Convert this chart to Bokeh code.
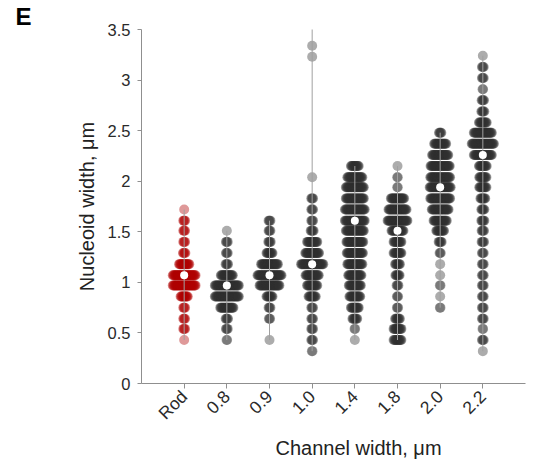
import math
from bokeh.plotting import figure
from bokeh.models import FixedTicker, CustomJSTickFormatter, Range1d, Title
from bokeh.embed import file_html
from bokeh.resources import INLINE

# ---------------- data ----------------
categories = ["Rod", "0.8", "0.9", "1.0", "1.4", "1.8", "2.0", "2.2"]

# binned nucleoid widths (um) and number of cells in each bin
rod_vals = [1.72, 1.61, 1.51, 1.40, 1.29, 1.18, 1.07, 0.97, 0.86, 0.75, 0.64, 0.54, 0.43]
rod_counts = [1, 4, 4, 4, 5, 18, 39, 39, 13, 4, 4, 4, 1]

w08_vals = [1.51, 1.40, 1.29, 1.18, 1.07, 0.97, 0.86, 0.75, 0.64, 0.54, 0.43]
w08_counts = [1, 4, 4, 5, 21, 41, 41, 23, 5, 4, 2]

w09_vals = [1.61, 1.51, 1.40, 1.29, 1.18, 1.07, 0.97, 0.86, 0.75, 0.64, 0.43]
w09_counts = [4, 4, 5, 11, 29, 41, 34, 11, 4, 3, 1]

w10_vals = [3.62, 3.34, 3.23, 2.04, 1.83, 1.72, 1.61, 1.51, 1.40, 1.29, 1.18, 1.07,
            0.97, 0.86, 0.75, 0.64, 0.54, 0.43, 0.32]
w10_counts = [1, 1, 1, 1, 4, 4, 4, 6, 18, 24, 38, 23, 18, 13, 4, 4, 4, 4, 2]

w14_vals = [2.15, 2.04, 1.94, 1.83, 1.72, 1.61, 1.51, 1.40, 1.29, 1.18, 1.07, 0.97,
            0.86, 0.75, 0.64, 0.54, 0.43]
w14_counts = [14, 26, 31, 31, 34, 34, 31, 29, 28, 26, 23, 21, 19, 14, 9, 2, 1]

w18_vals = [2.15, 2.04, 1.94, 1.83, 1.72, 1.61, 1.51, 1.40, 1.29, 1.18, 1.07, 0.97,
            0.86, 0.75, 0.64, 0.54, 0.43]
w18_counts = [1, 2, 2, 23, 31, 34, 21, 14, 14, 9, 8, 4, 3, 3, 9, 14, 14]

w20_vals = [2.48, 2.37, 2.26, 2.15, 2.04, 1.94, 1.83, 1.72, 1.61, 1.51, 1.40, 1.29,
            1.18, 1.07, 0.97, 0.86, 0.75]
w20_counts = [5, 21, 28, 33, 34, 36, 34, 29, 23, 14, 6, 3, 1, 1, 2, 1, 2]

w22_vals = [3.24, 3.13, 3.02, 2.91, 2.80, 2.69, 2.58, 2.48, 2.37, 2.26, 2.15, 2.04,
            1.94, 1.83, 1.72, 1.61, 1.51, 1.40, 1.29, 1.18, 1.07, 0.97, 0.86, 0.75,
            0.64, 0.54, 0.43, 0.32]
w22_counts = [1, 4, 4, 2, 5, 6, 14, 31, 38, 31, 14, 13, 13, 9, 6, 6, 5, 5, 4, 4,
              4, 4, 4, 4, 4, 2, 4, 1]

medians = [1.07, 0.97, 1.07, 1.18, 1.61, 1.51, 1.94, 2.26]

y_ticks = [0, 0.5, 1, 1.5, 2, 2.5, 3, 3.5]

groups = [
    (rod_vals, rod_counts), (w08_vals, w08_counts), (w09_vals, w09_counts),
    (w10_vals, w10_counts), (w14_vals, w14_counts), (w18_vals, w18_counts),
    (w20_vals, w20_counts), (w22_vals, w22_counts),
]

# ---------------- figure ----------------
FONT = "Liberation Sans"
FRAME_W, FRAME_H = 384, 354
X_END = 9.0
p = figure(frame_width=FRAME_W, frame_height=FRAME_H,
           min_border_left=141, min_border_top=29, min_border_right=9, min_border_bottom=76,
           x_range=Range1d(0, X_END), y_range=Range1d(0, 3.5),
           output_backend="svg", toolbar_location=None)
p.grid.visible = False
p.outline_line_color = None
p.background_fill_color = "white"

step = 0.6 * X_END / FRAME_W  # horizontal spacing of points inside a bin (data units)

gx, gy, rx, ry = [], [], [], []
for gi, (vals, counts) in enumerate(groups):
    cx = gi + 1
    for v, n in zip(vals, counts):
        for i in range(n):
            off = (i - (n - 1) / 2.0) * step
            if gi == 0:
                rx.append(cx + off); ry.append(v)
            else:
                gx.append(cx + off); gy.append(v)

p.scatter(gx, gy, size=10, fill_color="#303030", fill_alpha=0.4, line_color=None)
p.scatter(rx, ry, size=10, fill_color="#b00000", fill_alpha=0.4, line_color=None)

# range lines (min to max)
cx_all = [i + 1 for i in range(len(groups))]
p.segment(x0=cx_all, y0=[min(v) for v, _ in groups], x1=cx_all, y1=[max(v) for v, _ in groups],
          line_color="#a0a0a0", line_width=1)

# medians
p.scatter(cx_all, medians, size=8, fill_color="white", line_color=None)

# axes
for ax in (p.xaxis[0], p.yaxis[0]):
    ax.axis_line_color = "#8f8f8f"
    ax.major_tick_line_color = "#8f8f8f"
    ax.minor_tick_line_color = None
    ax.major_tick_in = 0
    ax.major_label_text_font = FONT
    ax.major_label_text_font_size = "16.5px"
    ax.major_label_text_color = "#2a2a2a"
    ax.axis_label_text_font = FONT
    ax.axis_label_text_font_size = "20px"
    ax.axis_label_text_font_style = "normal"
    ax.axis_label_text_color = "#222222"

p.xaxis.ticker = FixedTicker(ticks=cx_all)
p.xaxis.major_label_overrides = {i + 1: c for i, c in enumerate(categories)}
p.xaxis.major_label_orientation = math.pi / 4
p.xaxis.major_label_text_font_size = "17.5px"
p.xaxis.major_tick_out = 5
p.xaxis.major_label_standoff = 5

p.yaxis.ticker = FixedTicker(ticks=y_ticks)
p.yaxis.formatter = CustomJSTickFormatter(code="return String(tick)")
p.yaxis.major_tick_out = 4
p.yaxis.major_label_standoff = 7
p.yaxis.axis_label = "Nucleoid width, μm"
p.yaxis.axis_label_standoff = 7

# x axis title (shifted right as in the reference) and panel letter
p.add_layout(Title(text="Channel width, μm", align="left", offset=134, standoff=3,
                   text_font=FONT, text_font_size="20px", text_font_style="normal",
                   text_color="#222222"), "below")
p.add_layout(Title(text="E", align="left", offset=-126, standoff=0,
                   text_font=FONT, text_font_size="24px", text_font_style="bold",
                   text_color="black"), "above")

open("out.html", "w").write(file_html(p, INLINE))
